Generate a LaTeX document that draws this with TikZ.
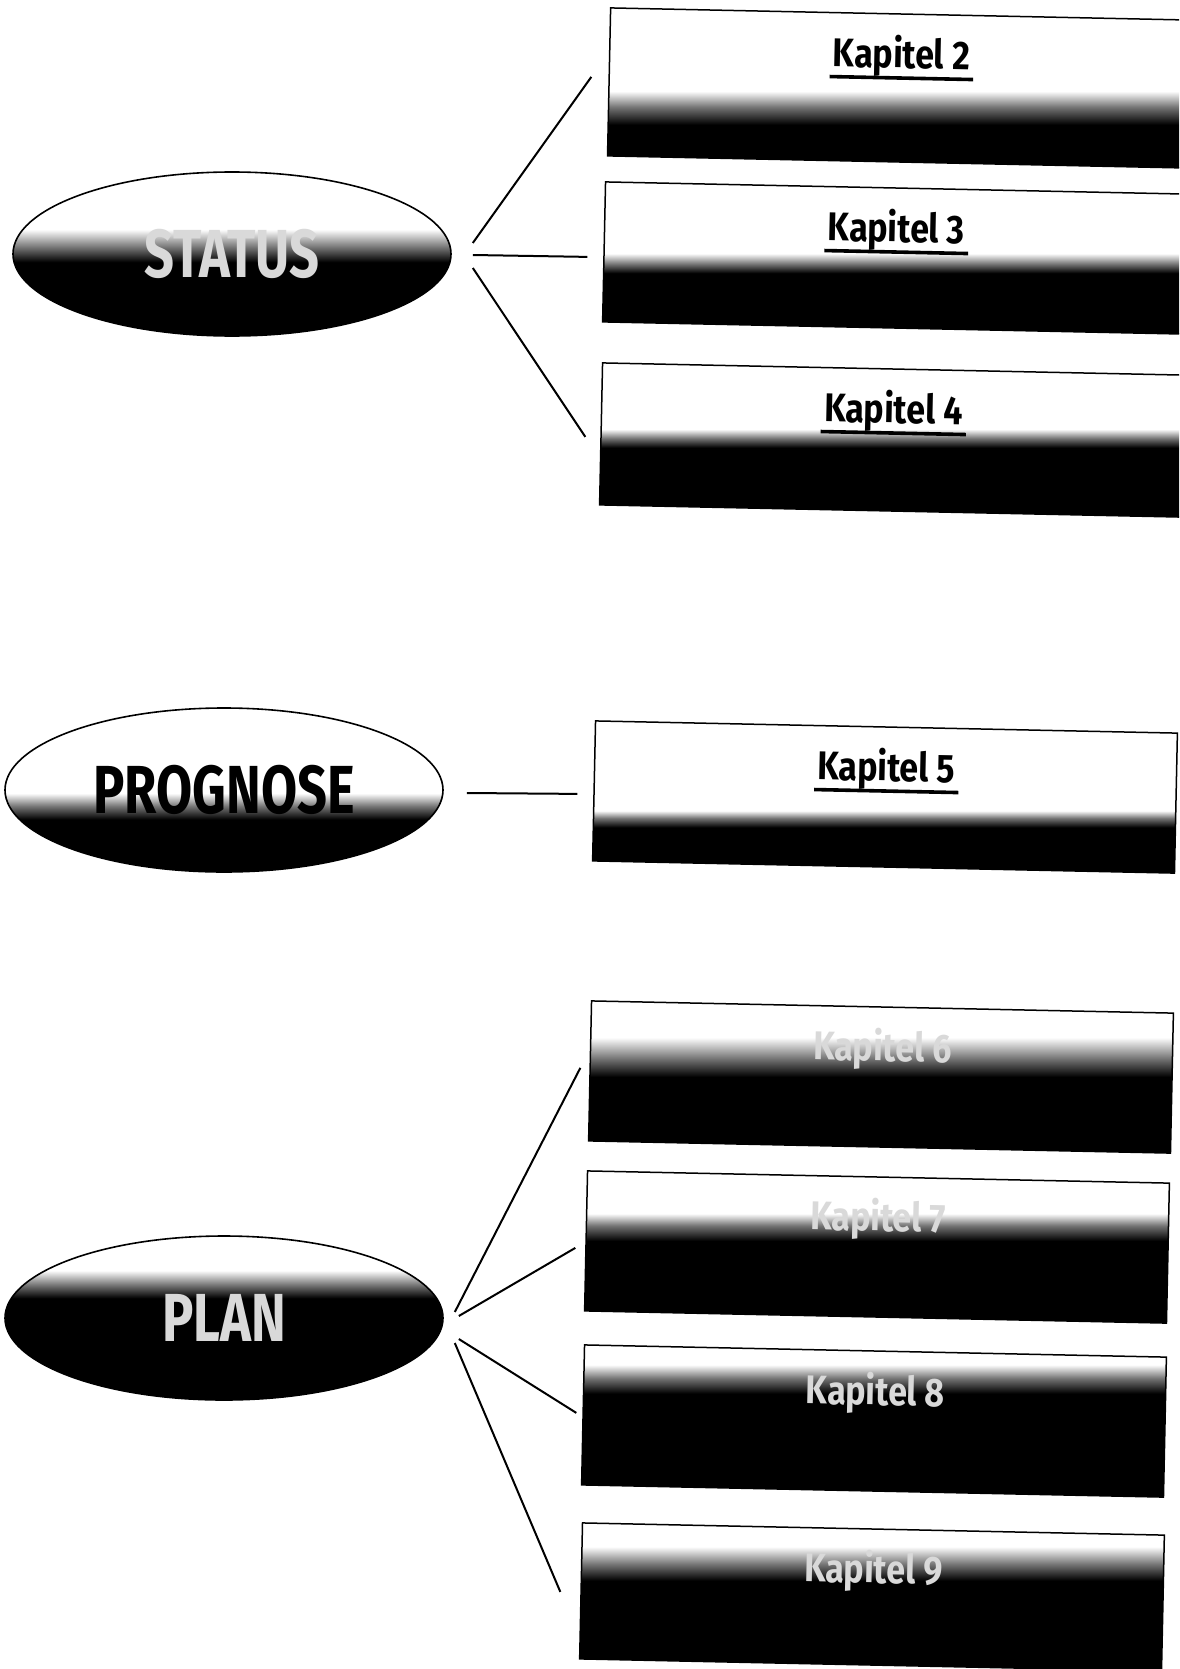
\documentclass[tikz,border=0pt]{standalone}
\usepackage{fontspec}
\usetikzlibrary{shapes.geometric}
\newfontfamily\kapfont[FakeStretch=0.85]{Fira Sans}
\newfontfamily\ovalfont[FakeStretch=0.77]{Fira Sans}
\definecolor{kapInk}{HTML}{000000}
\definecolor{kapPale}{HTML}{D9D9D9}
% white top, black bottom; bbox of a path runs from 25bp (bottom) to 75bp (top)
\pgfdeclareverticalshading{fadeStatus}{100bp}{color(0bp)=(black); color(47.5bp)=(black); color(52bp)=(black!55); color(57.5bp)=(white); color(100bp)=(white)}
\pgfdeclareverticalshading{fadeProg}{100bp}{color(0bp)=(black); color(41bp)=(black); color(45bp)=(black!55); color(49bp)=(white); color(100bp)=(white)}
\pgfdeclareverticalshading{fadePlan}{100bp}{color(0bp)=(black); color(56bp)=(black); color(60bp)=(black!55); color(64.5bp)=(white); color(100bp)=(white)}
\pgfdeclareverticalshading{fadeTwo}{100bp}{color(0bp)=(black); color(38.5bp)=(black); color(44bp)=(black!55); color(49bp)=(white); color(100bp)=(white)}
\pgfdeclareverticalshading{fadeThree}{100bp}{color(0bp)=(black); color(45bp)=(black); color(48bp)=(black!55); color(51.5bp)=(white); color(100bp)=(white)}
\pgfdeclareverticalshading{fadeFour}{100bp}{color(0bp)=(black); color(47.5bp)=(black); color(50.5bp)=(black!55); color(53.5bp)=(white); color(100bp)=(white)}
\pgfdeclareverticalshading{fadeFive}{100bp}{color(0bp)=(black); color(40bp)=(black); color(43bp)=(black!55); color(45.5bp)=(white); color(100bp)=(white)}
\pgfdeclareverticalshading{fadeSix}{100bp}{color(0bp)=(black); color(50bp)=(black); color(56bp)=(black!55); color(63bp)=(white); color(100bp)=(white)}
\pgfdeclareverticalshading{fadeSeven}{100bp}{color(0bp)=(black); color(52bp)=(black); color(57bp)=(black!55); color(61bp)=(white); color(100bp)=(white)}
\pgfdeclareverticalshading{fadeEight}{100bp}{color(0bp)=(black); color(59bp)=(black); color(64bp)=(black!55); color(68.5bp)=(white); color(100bp)=(white)}
\pgfdeclareverticalshading{fadeNine}{100bp}{color(0bp)=(black); color(55.5bp)=(black); color(61bp)=(black!55); color(67bp)=(white); color(100bp)=(white)}
\tikzset{
  kap oval/.style={ellipse, draw=kapInk, line width=0.8pt, shade, minimum width=219pt, minimum height=82pt, inner sep=0pt, font=\ovalfont\bfseries\fontsize{34}{36}\selectfont},
  kap box/.style={rectangle, draw=kapInk, line width=0.75pt, shade, minimum width=291pt, inner sep=0pt, rotate=-1.2},
  kap title/.style={inner sep=1.5pt, rotate=-1.2, font=\kapfont\bfseries\fontsize{20}{22}\selectfont},
  kap rule/.style={draw=kapInk, line width=1.8pt},
  kap link/.style={draw=kapInk, line width=1pt},
}
\begin{document}
\begin{tikzpicture}[x=0.5pt,y=-0.5pt]
  \useasboundingbox (0,0) rectangle (1179,1669);
  \clip (0,0) rectangle (1179,1669);
  \fill[white] (0,0) rectangle (1179,1669);
  % the three ovals
  \node[kap oval, shading=fadeStatus, text=kapPale] (status) at (232,254) {STATUS};
  \node[kap oval, shading=fadeProg, text=kapInk] (prognose) at (224,790) {PROGNOSE};
  \node[kap oval, shading=fadePlan, text=kapPale] (plan) at (224,1318) {PLAN};
  % chapter boxes
  \foreach \i/\cx/\cy/\h/\f in {2/900/88/148/fadeTwo, 3/895/258/140/fadeThree, 4/892/440/142/fadeFour, 5/885/797/140/fadeFive} {
    \node[kap box, minimum height=\h*0.5pt, shading=\f] (k\i) at (\cx,\cy) {};
    \node[kap title, text=kapInk] (t\i) at ([yshift=-21.5pt]k\i.north) {Kapitel \i};
    \draw[kap rule] ([yshift=-5pt]t\i.base west) -- ([yshift=-5pt]t\i.base east);
  }
  \foreach \i/\cx/\cy/\h/\f in {6/881/1077/140/fadeSix, 7/877/1247/140/fadeSeven, 8/874/1421/140/fadeEight, 9/872/1597/136/fadeNine} {
    \node[kap box, minimum height=\h*0.5pt, shading=\f] (k\i) at (\cx,\cy) {};
    \node[kap title, text=kapPale] (t\i) at ([yshift=-21.5pt]k\i.north) {Kapitel \i};
  }
  % connectors
  \draw[kap link] ([shift={(21,-11)}]status.east) -- ([shift={(-17,-5)}]k2.west);
  \draw[kap link] ([shift={(21,1)}]status.east) -- ([shift={(-16,5)}]k3.west);
  \draw[kap link] ([shift={(21,14)}]status.east) -- ([shift={(-15,3)}]k4.west);
  \draw[kap link] ([shift={(23,3)}]prognose.east) -- ([shift={(-16,3)}]k5.west);
  \draw[kap link] ([shift={(11,-6)}]plan.east) -- ([shift={(-9,-3)}]k6.west);
  \draw[kap link] ([shift={(15,-2)}]plan.east) -- ([shift={(-10,7)}]k7.west);
  \draw[kap link] ([shift={(15,21)}]plan.east) -- ([shift={(-6,-2)}]k8.west);
  \draw[kap link] ([shift={(11,25)}]plan.east) -- ([shift={(-20,1)}]k9.west);
\end{tikzpicture}
\end{document}
